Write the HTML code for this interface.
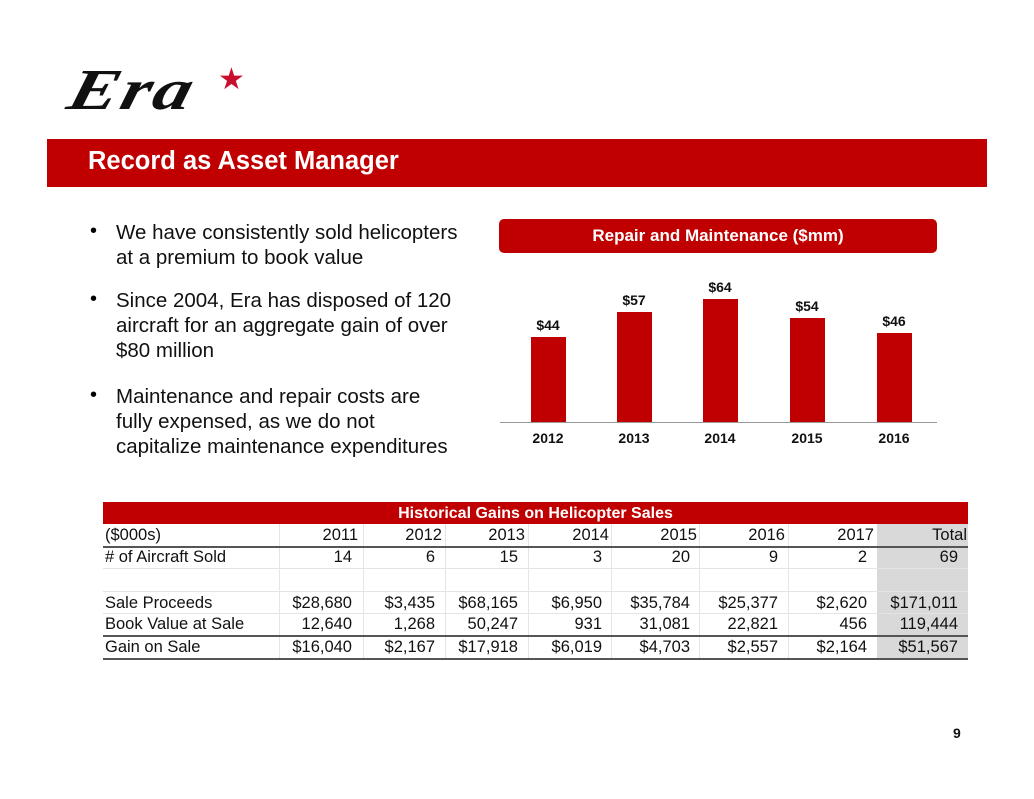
<!DOCTYPE html>
<html><head><meta charset="utf-8"><style>
body{margin:0;width:1034px;height:799px;background:#fff;position:relative;overflow:hidden;font-family:"Liberation Sans",Arial,sans-serif}
.a{position:absolute}
.b{position:absolute;left:116px;font-family:"Liberation Sans",Arial,sans-serif;font-size:20.5px;line-height:25px;color:#111;white-space:nowrap}
.d{position:absolute;left:90px;font-size:20px}
.c{position:absolute;font-size:16.5px;color:#111;text-align:right;height:22px;line-height:22px;white-space:nowrap}
.l{position:absolute;left:105px;font-size:16.5px;color:#111;height:22px;line-height:22px;white-space:nowrap}
.bar{position:absolute;background:#c00000;width:35px}
.v{position:absolute;font-size:14px;font-weight:bold;width:60px;text-align:center;color:#111}
</style></head><body>
<div class="a" style="left:70px;top:56px;font-family:'Liberation Serif',serif;font-style:italic;font-weight:bold;font-size:58px;color:#111;letter-spacing:2px;transform:skewX(-15deg) scaleX(1.3);transform-origin:left">Era</div>
<div class="a" style="left:218px;top:62px;font-size:30px;color:#c8102e">★</div>
<div class="a" style="left:47px;top:139px;width:940px;height:48px;background:#c00000"></div>
<div class="a" style="left:88px;top:147px;font-size:25.5px;font-weight:bold;color:#fff;white-space:nowrap">Record as Asset Manager</div>

<div class="d" style="top:220px">•</div>
<div class="b" style="top:220px">We have consistently sold helicopters<br>at a premium to book value</div>
<div class="d" style="top:288px">•</div>
<div class="b" style="top:288px">Since 2004, Era has disposed of 120<br>aircraft for an aggregate gain of over<br>$80 million</div>
<div class="d" style="top:384px">•</div>
<div class="b" style="top:384px">Maintenance and repair costs are<br>fully expensed, as we do not<br>capitalize maintenance expenditures</div>

<div class="a" style="left:499px;top:219px;width:438px;height:34px;background:#c00000;border-radius:5px;color:#fff;font-weight:bold;font-size:17px;text-align:center;line-height:34px">Repair and Maintenance ($mm)</div>
<div class="bar" style="left:531px;top:337px;height:85px"></div>
<div class="bar" style="left:617px;top:312px;height:110px"></div>
<div class="bar" style="left:703px;top:299px;height:123px"></div>
<div class="bar" style="left:790px;top:318px;height:104px"></div>
<div class="bar" style="left:877px;top:333px;height:89px"></div>
<div class="v" style="left:518px;top:317px">$44</div>
<div class="v" style="left:604px;top:292px">$57</div>
<div class="v" style="left:690px;top:279px">$64</div>
<div class="v" style="left:777px;top:298px">$54</div>
<div class="v" style="left:864px;top:313px">$46</div>
<div class="a" style="left:500px;top:422px;width:437px;height:1px;background:#999"></div>
<div class="v" style="left:518px;top:430px">2012</div>
<div class="v" style="left:604px;top:430px">2013</div>
<div class="v" style="left:690px;top:430px">2014</div>
<div class="v" style="left:777px;top:430px">2015</div>
<div class="v" style="left:864px;top:430px">2016</div>

<div class="a" style="left:103px;top:502px;width:865px;height:22px;background:#c00000;color:#fff;font-weight:bold;font-size:16px;text-align:center;line-height:24px">Historical Gains on Helicopter Sales</div>
<div class="a" style="left:877px;top:524px;width:91px;height:135px;background:#d9d9d9"></div>
<div class="a" style="left:279px;top:524px;width:1px;height:135px;background:#e4e4e4"></div>
<div class="a" style="left:363px;top:524px;width:1px;height:135px;background:#e4e4e4"></div>
<div class="a" style="left:445px;top:524px;width:1px;height:135px;background:#e4e4e4"></div>
<div class="a" style="left:528px;top:524px;width:1px;height:135px;background:#e4e4e4"></div>
<div class="a" style="left:611px;top:524px;width:1px;height:135px;background:#e4e4e4"></div>
<div class="a" style="left:699px;top:524px;width:1px;height:135px;background:#e4e4e4"></div>
<div class="a" style="left:788px;top:524px;width:1px;height:135px;background:#e4e4e4"></div>
<div class="a" style="left:103px;top:546px;width:865px;height:2px;background:#555"></div>
<div class="a" style="left:103px;top:568px;width:865px;height:1px;background:#e4e4e4"></div>
<div class="a" style="left:103px;top:591px;width:865px;height:1px;background:#e4e4e4"></div>
<div class="a" style="left:103px;top:613px;width:865px;height:1px;background:#e4e4e4"></div>
<div class="a" style="left:103px;top:635px;width:865px;height:2px;background:#555"></div>
<div class="a" style="left:103px;top:658px;width:865px;height:2px;background:#555"></div>

<div class="l" style="top:524px">($000s)</div>
<div class="l" style="top:546px"># of Aircraft Sold</div>
<div class="l" style="top:592px">Sale Proceeds</div>
<div class="l" style="top:613px">Book Value at Sale</div>
<div class="l" style="top:636px">Gain on Sale</div>

<div class="c" style="left:280px;width:78px;top:524px">2011</div>
<div class="c" style="left:364px;width:78px;top:524px">2012</div>
<div class="c" style="left:446px;width:79px;top:524px">2013</div>
<div class="c" style="left:529px;width:80px;top:524px">2014</div>
<div class="c" style="left:612px;width:85px;top:524px">2015</div>
<div class="c" style="left:700px;width:85px;top:524px">2016</div>
<div class="c" style="left:789px;width:85px;top:524px">2017</div>
<div class="c" style="left:878px;width:89px;top:524px">Total</div>

<div class="c" style="left:280px;width:72px;top:546px">14</div>
<div class="c" style="left:364px;width:71px;top:546px">6</div>
<div class="c" style="left:446px;width:72px;top:546px">15</div>
<div class="c" style="left:529px;width:73px;top:546px">3</div>
<div class="c" style="left:612px;width:78px;top:546px">20</div>
<div class="c" style="left:700px;width:78px;top:546px">9</div>
<div class="c" style="left:789px;width:78px;top:546px">2</div>
<div class="c" style="left:878px;width:80px;top:546px">69</div>

<div class="c" style="left:280px;width:72px;top:592px">$28,680</div>
<div class="c" style="left:364px;width:71px;top:592px">$3,435</div>
<div class="c" style="left:446px;width:72px;top:592px">$68,165</div>
<div class="c" style="left:529px;width:73px;top:592px">$6,950</div>
<div class="c" style="left:612px;width:78px;top:592px">$35,784</div>
<div class="c" style="left:700px;width:78px;top:592px">$25,377</div>
<div class="c" style="left:789px;width:78px;top:592px">$2,620</div>
<div class="c" style="left:878px;width:80px;top:592px">$171,011</div>

<div class="c" style="left:280px;width:72px;top:613px">12,640</div>
<div class="c" style="left:364px;width:71px;top:613px">1,268</div>
<div class="c" style="left:446px;width:72px;top:613px">50,247</div>
<div class="c" style="left:529px;width:73px;top:613px">931</div>
<div class="c" style="left:612px;width:78px;top:613px">31,081</div>
<div class="c" style="left:700px;width:78px;top:613px">22,821</div>
<div class="c" style="left:789px;width:78px;top:613px">456</div>
<div class="c" style="left:878px;width:80px;top:613px">119,444</div>

<div class="c" style="left:280px;width:72px;top:636px">$16,040</div>
<div class="c" style="left:364px;width:71px;top:636px">$2,167</div>
<div class="c" style="left:446px;width:72px;top:636px">$17,918</div>
<div class="c" style="left:529px;width:73px;top:636px">$6,019</div>
<div class="c" style="left:612px;width:78px;top:636px">$4,703</div>
<div class="c" style="left:700px;width:78px;top:636px">$2,557</div>
<div class="c" style="left:789px;width:78px;top:636px">$2,164</div>
<div class="c" style="left:878px;width:80px;top:636px">$51,567</div>

<div class="a" style="left:953px;top:725px;font-size:14px;font-weight:bold;color:#111">9</div>
</body></html>
